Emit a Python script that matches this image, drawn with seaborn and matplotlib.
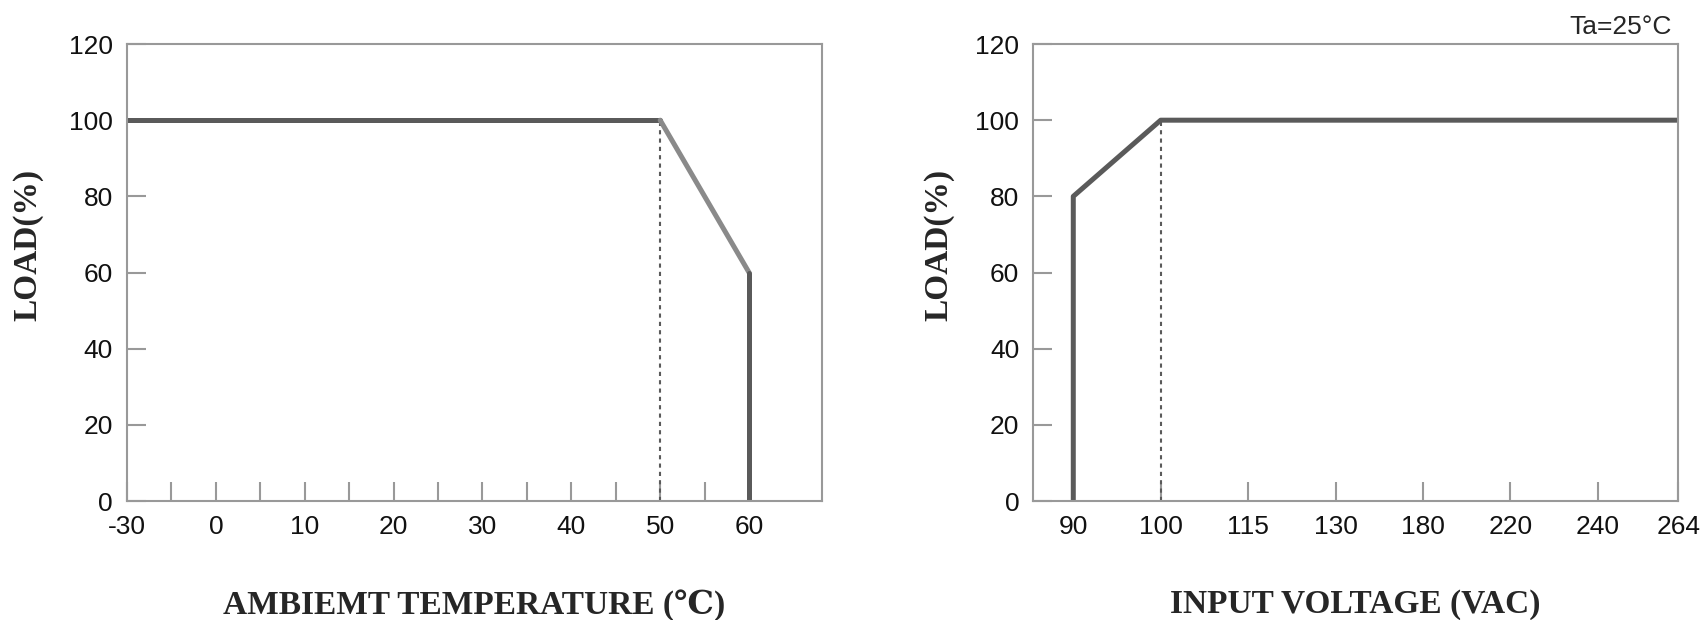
import numpy as np
import pandas as pd
import matplotlib
matplotlib.use('Agg')
import matplotlib.pyplot as plt
import seaborn as sns

# donnees : courbes de derating
temp = [-30, 50, 60, 60]
load_temp = [100, 100, 60, 0]
temp_ticks = [-30, -25, 0, 5, 10, 15, 20, 25, 30, 35, 40, 45, 50, 55, 60]
temp_labels = ['-30', '', '0', '', '10', '', '20', '', '30', '', '40', '', '50', '', '60']

volt = [90, 90, 100, 264]
load_volt = [0, 80, 100, 100]
volt_ticks = [90, 100, 115, 130, 180, 220, 240, 264]

load_ticks = [0, 20, 40, 60, 80, 100, 120]

sns.set_style('white')
plt.rcParams['font.family'] = ['Liberation Sans', 'DejaVu Sans']
plt.rcParams['axes.edgecolor'] = '#999999'
plt.rcParams['axes.linewidth'] = 1.5

DARK = '#5a5a5a'
LIGHT = '#8a8a8a'
SERIF = ['Liberation Serif', 'DejaVu Serif', 'DejaVu Sans']


# axe temperature casse : -30 -> -10, -25 -> -5, le reste lineaire
def pos_temp(t):
    return np.interp(t, [-30, -25, 0, 100], [-10, -5, 0, 100])


# axe tension : categories regulierement espacees
volt_pos = [0, 1, 2, 3, 4, 5, 6, 6.92]


def pos_volt(v):
    return np.interp(v, volt_ticks, volt_pos)


fig = plt.figure(figsize=(17.07, 6.2), dpi=100)
ax1 = fig.add_axes([0.0744, 0.1919, 0.4071, 0.7371])
ax2 = fig.add_axes([0.6052, 0.1919, 0.3779, 0.7371])

# ---- graphe 1 : temperature ----
df1 = pd.DataFrame({'x': pos_temp(temp), 'y': load_temp})
sns.lineplot(data=df1.iloc[0:2], x='x', y='y', sort=False, estimator=None,
             color=DARK, lw=3.6, ax=ax1)
sns.lineplot(data=df1.iloc[1:3], x='x', y='y', sort=False, estimator=None,
             color=LIGHT, lw=3.6, ax=ax1)
sns.lineplot(data=df1.iloc[2:4], x='x', y='y', sort=False, estimator=None,
             color=DARK, lw=3.6, ax=ax1)
ax1.plot([pos_temp(50), pos_temp(50)], [0, 100], color=DARK, lw=1.5,
         ls=(0, (2, 2)), zorder=1)
ax1.set_xlim(-10, 68.2)
ax1.set_xticks(pos_temp(temp_ticks))
ax1.set_xticklabels(temp_labels)
ax1.set_xlabel('AMBIEMT TEMPERATURE (℃)', family=SERIF, fontsize=24,
               fontweight='bold', labelpad=36)

# ---- graphe 2 : tension ----
df2 = pd.DataFrame({'x': pos_volt(volt), 'y': load_volt})
sns.lineplot(data=df2, x='x', y='y', sort=False, estimator=None,
             color=DARK, lw=3.6, ax=ax2)
ax2.plot([pos_volt(100), pos_volt(100)], [0, 100], color=DARK, lw=1.5,
         ls=(0, (2, 2)), zorder=1)
ax2.set_xlim(-0.46, 6.92)
ax2.set_xticks(volt_pos)
ax2.set_xticklabels([str(v) for v in volt_ticks])
ax2.set_xlabel('INPUT VOLTAGE (VAC)', family=SERIF, fontsize=24,
               fontweight='bold', labelpad=36)
ax2.text(0.99, 1.022, 'Ta=25°C', transform=ax2.transAxes, ha='right',
         va='baseline', fontsize=19)

for ax in (ax1, ax2):
    ax.set_ylim(0, 120)
    ax.set_yticks(load_ticks)
    ax.set_ylabel('LOAD(%)', family=SERIF, fontsize=24, fontweight='bold')
    ax.yaxis.set_label_coords(-0.12 if ax is ax1 else -0.122, 0.56)
    ax.tick_params(labelsize=19, pad=10, labelcolor='#111111')
    for s in ax.spines.values():
        s.set_visible(True)
    # graduations vers l'interieur, reglees en dernier
    ax.xaxis.set_tick_params(which='major', bottom=True, direction='in',
                             length=14, width=1.5, color='#999999')
    ax.yaxis.set_tick_params(which='major', left=True, direction='in',
                             length=14, width=1.5, color='#999999')

fig.savefig('out.png', dpi=100)
